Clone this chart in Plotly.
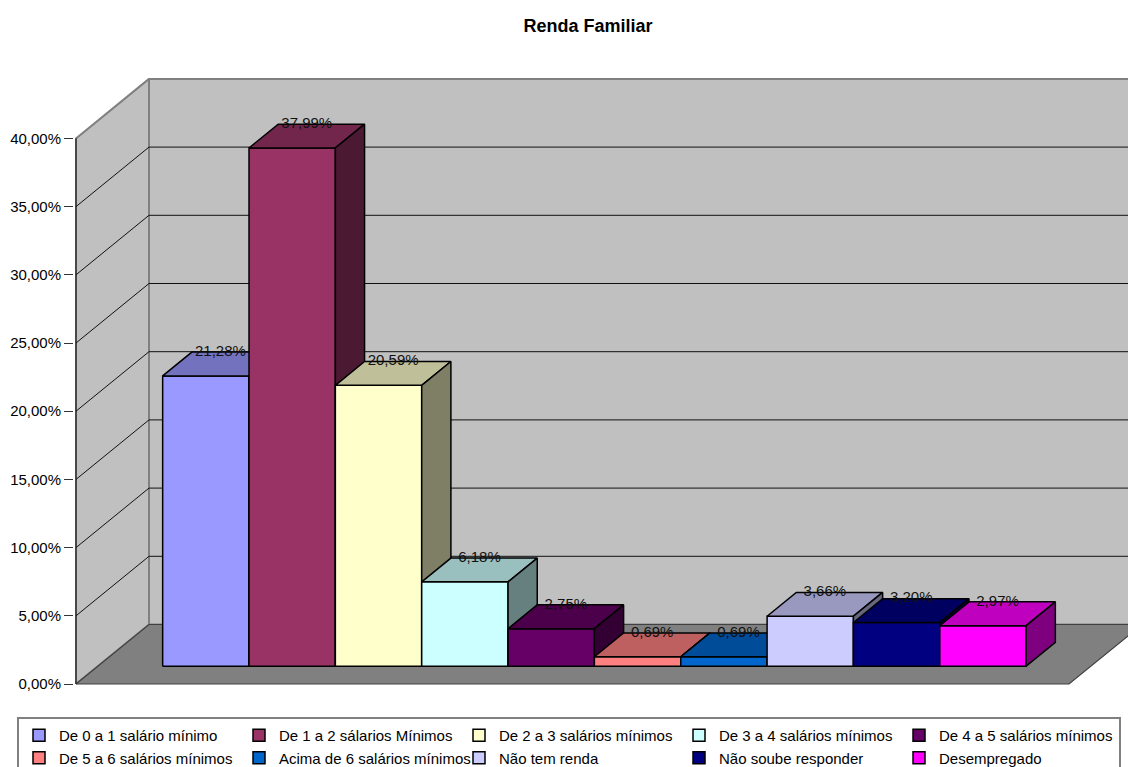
import plotly.graph_objects as go

# ---------------- data ----------------
chart_title = "Renda Familiar"
series_names = [
    "De 0 a 1 salário mínimo",
    "De 1 a 2 sálarios Mínimos",
    "De 2 a 3 salários mínimos",
    "De 3 a 4 salários mínimos",
    "De 4 a 5 salários mínimos",
    "De 5 a 6 salários mínimos",
    "Acima de 6 salários mínimos",
    "Não tem renda",
    "Não soube responder",
    "Desempregado",
]
values_pct = [21.28, 37.99, 20.59, 6.18, 2.75, 0.69, 0.69, 3.66, 3.20, 2.97]
series_colors = [
    "#9999FF", "#993366", "#FFFFCC", "#CCFFFF", "#660066",
    "#FF8080", "#0066CC", "#CCCCFF", "#000080", "#FF00FF",
]
y_tick_values_pct = [0, 5, 10, 15, 20, 25, 30, 35, 40]
y_axis_max_pct = 40

# ---------------- geometry / style ----------------
W, H = 1128, 767
M_L, M_R, M_T, M_B = 74, 0, 70, 81
PX_PER_CAT = 993.0        # width of the single category (front plane)
PX_PER_UNIT = 1364.0      # pixels per 100 %
DEPTH_DX_PX = 73.0
DEPTH_DY_PX = 59.5
GAP_WIDTH = 1.5
GAP_DEPTH = 1.5
PAD_PX = 2.0

dxz = DEPTH_DX_PX / PX_PER_CAT
dyz = DEPTH_DY_PX / PX_PER_UNIT

plot_w = W - M_L - M_R
plot_h = H - M_T - M_B
x_range = [-PAD_PX / PX_PER_CAT, (plot_w - PAD_PX) / PX_PER_CAT]
y_range = [-PAD_PX / PX_PER_UNIT, (plot_h - PAD_PX) / PX_PER_UNIT]

FONT = "Liberation Sans, Arial, sans-serif"
WALL = "#C0C0C0"
FLOOR = "#808080"
WALL_EDGE = "#808080"


def proj(x, v, z):
    return x + z * dxz, v + z * dyz


def poly(points):
    xs, ys = [], []
    for (x, v, z) in points:
        px, py = proj(x, v, z)
        xs.append(px)
        ys.append(py)
    xs.append(xs[0])
    ys.append(ys[0])
    return xs, ys


def shade(hex_color, f):
    h = hex_color.lstrip("#")
    r, g, b = (int(h[i:i + 2], 16) for i in (0, 2, 4))
    return "#%02X%02X%02X" % (int(r * f), int(g * f), int(b * f))


fig = go.Figure()

# legend entries
for name, col in zip(series_names, series_colors):
    fig.add_trace(go.Scatter(
        x=[None], y=[None], mode="markers", name=name,
        marker=dict(symbol="square", size=12, color=col,
                    line=dict(color="black", width=1.5)),
        hoverinfo="skip",
    ))


def add_poly(points, fill, line_color, line_width=1.0):
    xs, ys = poly(points)
    fig.add_trace(go.Scatter(
        x=xs, y=ys, mode="lines", fill="toself", fillcolor=fill,
        line=dict(color=line_color, width=line_width),
        showlegend=False, hoverinfo="skip",
    ))


def add_line(points, color, width=1.0):
    xs, ys = [], []
    for p in points:
        px, py = proj(*p)
        xs.append(px)
        ys.append(py)
    fig.add_trace(go.Scatter(
        x=xs, y=ys, mode="lines", line=dict(color=color, width=width),
        showlegend=False, hoverinfo="skip",
    ))


top = y_axis_max_pct / 100.0
# back wall
add_poly([(0, 0, 1), (1, 0, 1), (1, top, 1), (0, top, 1)], WALL, WALL_EDGE, 2)
# left wall
add_poly([(0, 0, 0), (0, 0, 1), (0, top, 1), (0, top, 0)], WALL, WALL_EDGE, 2)
# floor
add_poly([(0, 0, 0), (1, 0, 0), (1, 0, 1), (0, 0, 1)], FLOOR, "#404040", 1.2)

# gridlines
for t in y_tick_values_pct[1:-1]:
    v = t / 100.0
    add_line([(0, v, 0), (0, v, 1), (1, v, 1)], "#111111", 1)
# left wall front edge
add_line([(0, 0, 0), (0, top, 0)], "#111111", 1)

# bars
n = len(values_pct)
unit = 1.0 / (n + GAP_WIDTH)
z0 = (GAP_DEPTH / 2) / (1 + GAP_DEPTH)
z1 = 1 - z0
label_x, label_y, label_text = [], [], []
for i, (val, col) in enumerate(zip(values_pct, series_colors)):
    v = val / 100.0
    x0 = (GAP_WIDTH / 2 + i) * unit
    x1 = x0 + unit
    add_poly([(x0, 0, z0), (x1, 0, z0), (x1, v, z0), (x0, v, z0)], col, "black", 1.5)
    add_poly([(x0, v, z0), (x1, v, z0), (x1, v, z1), (x0, v, z1)], shade(col, 0.75), "black", 1.5)
    add_poly([(x1, 0, z0), (x1, 0, z1), (x1, v, z1), (x1, v, z0)], shade(col, 0.5), "black", 1.5)
    lx, _ = proj((x0 + x1) / 2, v, 0.5)
    _, ly = proj(x0, v, z1)
    label_x.append(lx)
    label_y.append(ly)
    label_text.append(("%.2f%%" % val).replace(".", ","))

fig.add_trace(go.Scatter(
    x=label_x, y=label_y, mode="text", text=label_text,
    textposition="middle center",
    textfont=dict(family=FONT, size=15, color="#111111"),
    cliponaxis=False, showlegend=False, hoverinfo="skip",
))

fig.update_layout(
    width=W, height=H, autosize=False,
    margin=dict(l=M_L, r=M_R, t=M_T, b=M_B, autoexpand=False),
    paper_bgcolor="white", plot_bgcolor="white",
    separators=",.",
    font=dict(family=FONT, size=15, color="black"),
    showlegend=True,
    title=dict(text="<b>" + chart_title + "</b>", x=588 / W, xref="container",
               xanchor="center", y=1 - 26 / H, yref="container", yanchor="middle",
               font=dict(family=FONT, size=18, color="black")),
    xaxis=dict(range=x_range, visible=False, fixedrange=True),
    yaxis=dict(range=y_range, tickvals=[t / 100.0 for t in y_tick_values_pct],
               tickformat=".2%", ticks="outside", ticklen=9, tickwidth=1,
               tickcolor="#333333", showgrid=False, zeroline=False,
               showline=False, fixedrange=True,
               tickfont=dict(family=FONT, size=15, color="black")),
    legend=dict(orientation="h", x=(17 - M_L) / plot_w, xanchor="left",
                y=-(717 - (H - M_B)) / plot_h, yanchor="top",
                entrywidth=175, entrywidthmode="pixels",
                bgcolor="white", bordercolor="#808080", borderwidth=2,
                font=dict(family=FONT, size=15, color="black"),
                itemwidth=30, traceorder="normal"),
)

fig.write_html("out.html")
